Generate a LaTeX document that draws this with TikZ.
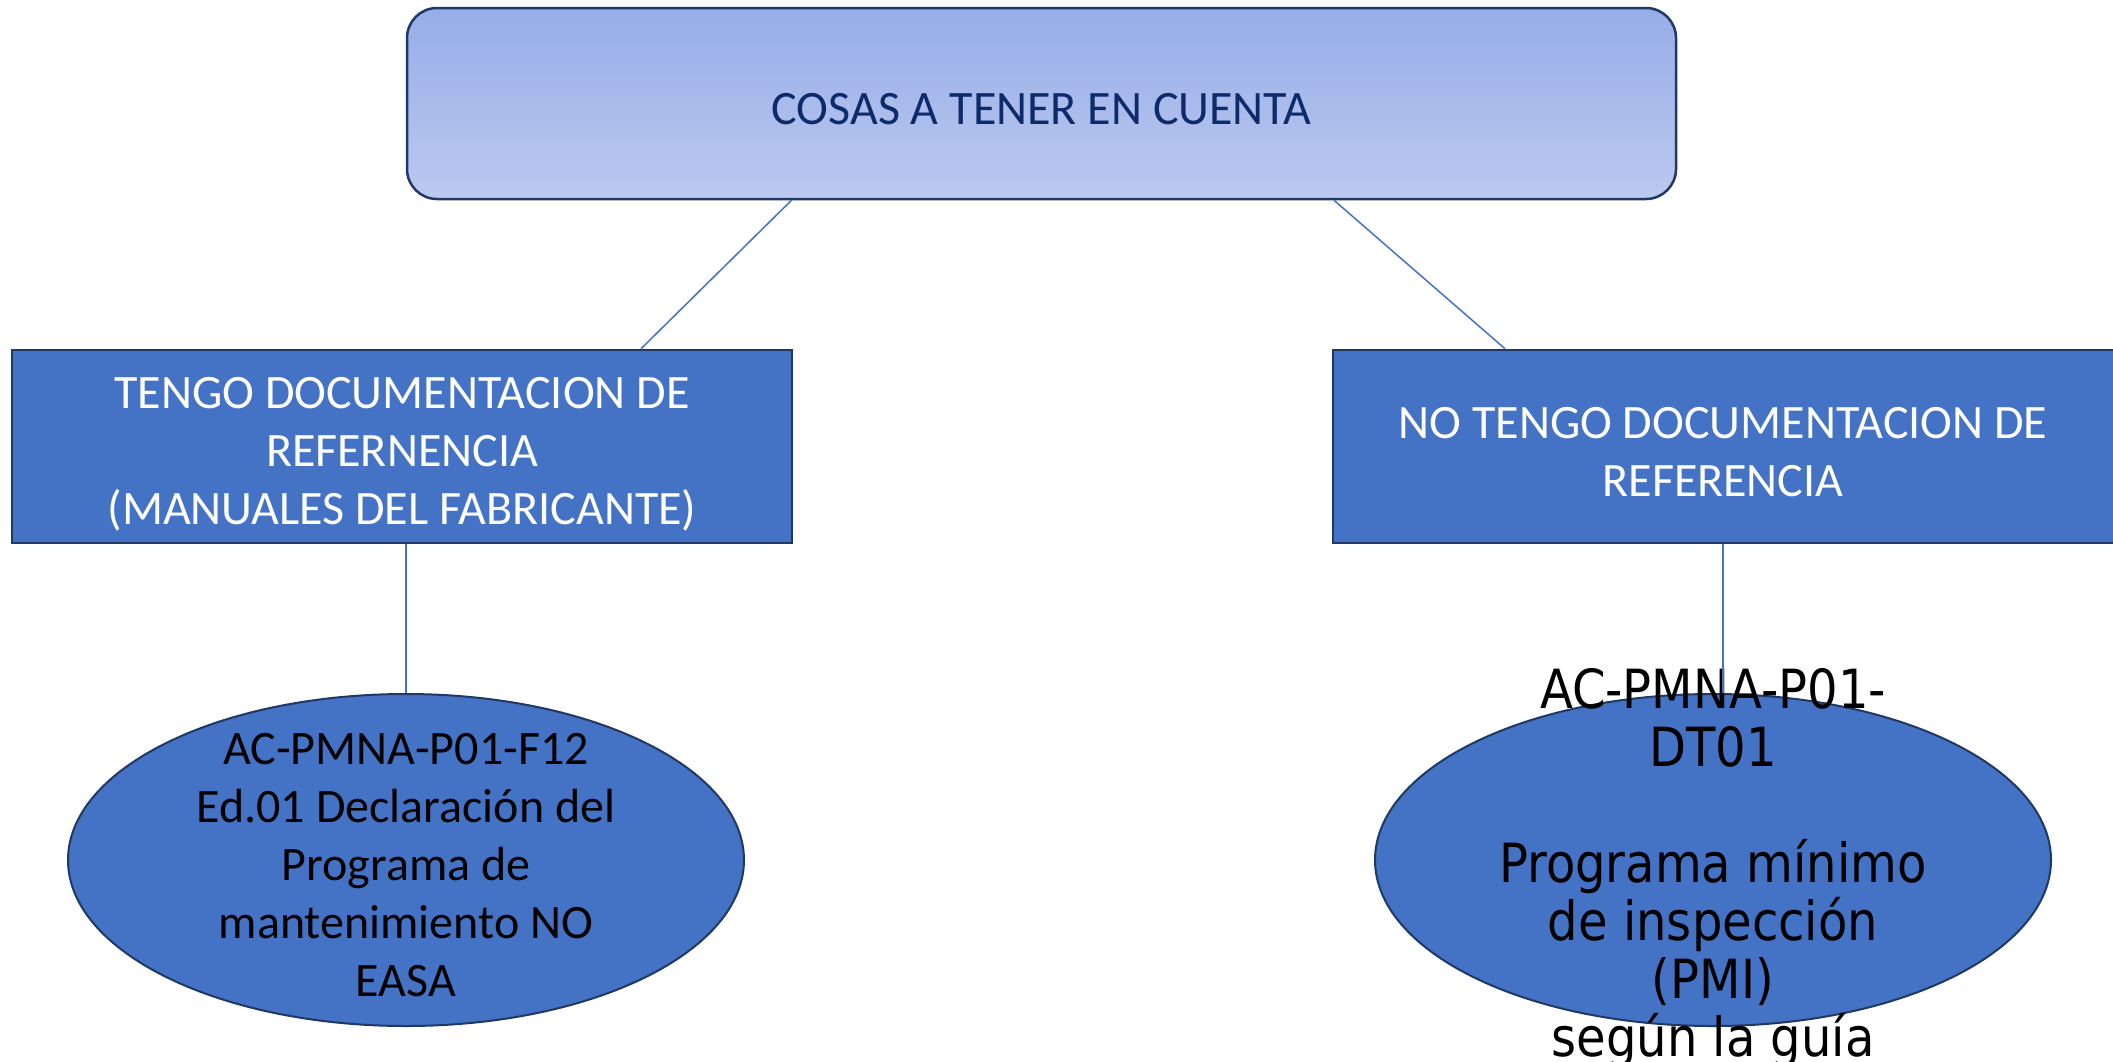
\documentclass[tikz,border=0pt]{standalone}
\usepackage{fontspec}
\setmainfont{Carlito}
\newfontfamily\pmifont[FakeStretch=0.89]{DejaVu Sans}
\usepackage{tikz}
\usetikzlibrary{shapes.geometric}

\definecolor{boxblue}{HTML}{4472C4}
\definecolor{boxline}{HTML}{1F3864}
\definecolor{toptop}{HTML}{97ADE8}
\definecolor{topbot}{HTML}{BCC9EF}
\definecolor{toptext}{HTML}{0D2A6B}

\tikzset{
  titlebox/.style={draw=boxline, line width=2.5pt, rounded corners=30pt,
    top color=toptop, bottom color=topbot, minimum width=1269pt, minimum height=191pt},
  docbox/.style={draw=boxline, line width=2.5pt, fill=boxblue,
    minimum height=193pt},
  boxtext/.style={align=center, text=white, font=\fontsize{48}{58}\selectfont},
  docoval/.style={ellipse, draw=boxline, line width=2pt, fill=boxblue,
    minimum width=676pt, minimum height=332pt, inner sep=0pt},
  link/.style={boxblue, line width=1.5pt}
}

\begin{document}
\begin{tikzpicture}[x=1pt,y=-1pt]
\useasboundingbox (0,0) rectangle (2113,1061);

\node[titlebox] (cosas) at (1041.5,103.5) {};
\node[text=toptext, font=\fontsize{48}{58}\selectfont] (cosastext) at (1041.5,109)
  {COSAS A TENER EN CUENTA};

\node[docbox, minimum width=780pt] (tengo) at (402,446.5) {};
\node[boxtext] (tengotext) at (402,454)
  {TENGO DOCUMENTACION DE\\REFERNENCIA\\(MANUALES DEL FABRICANTE)};
\node[docbox, minimum width=786pt] (notengo) at (1726,446.5) {};
\node[boxtext] (notengotext) at (1723,452)
  {NO TENGO DOCUMENTACION DE\\REFERENCIA};

\node[docoval] (fab) at (406,860) {};
\node[align=center, font=\fontsize{48}{58}\selectfont] (fabtext) at (406,865)
  {AC-PMNA-P01-F12\\Ed.01 Declaración del\\Programa de\\mantenimiento NO\\EASA};
\node[docoval] (pmi) at (1713,860) {};
\node[anchor=north, align=center, inner sep=0pt, font=\pmifont\fontsize{54}{58}\selectfont]
  (pmitext) at (1713,668)
  {AC-PMNA-P01-\\DT01\\\\Programa mínimo\\de inspección\\(PMI)\\según la guía};

\draw[link] ([xshift=-250pt]cosas.south) -- ([xshift=239pt]tengo.north);
\draw[link] ([xshift=292.5pt]cosas.south) -- ([xshift=-221pt]notengo.north);
\draw[link] (tengo.south -| fab.north) -- (fab.north);
\draw[link] (notengotext |- notengo.south) -- (notengotext |- pmi.north);

\end{tikzpicture}
\end{document}
